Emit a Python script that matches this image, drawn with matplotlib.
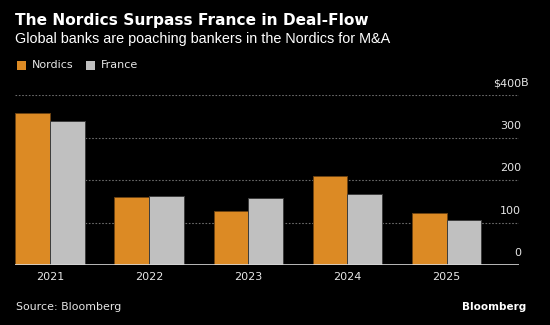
import matplotlib
matplotlib.use("Agg")
import matplotlib.pyplot as plt
import matplotlib.transforms as mtransforms
import numpy as np

years = ["2021", "2022", "2023", "2024", "2025"]
nordics = [358, 160, 127, 209, 124]
france = [338, 162, 157, 167, 106]
y_ticks = [0, 100, 200, 300, 400]
y_labels = ["0", "100", "200", "300", "$400B"]

W, H = 550, 325
fig = plt.figure(figsize=(W / 100, H / 100), dpi=100, facecolor="black")

def fx(px):
    return px / W

def fy(py):
    return 1 - py / H

ax_left, ax_right, ax_top, ax_bottom = 15, 519, 95, 265.3
ax = fig.add_axes([fx(ax_left), fy(ax_bottom), fx(ax_right - ax_left), (ax_bottom - ax_top) / H])
ax.set_facecolor("black")

orange = "#DC8A24"
grey = "#C0C0C0"
x = np.arange(len(years))
bw = 0.35
ax.bar(x - bw / 2, nordics, width=bw, color=orange, edgecolor="#6b4212", linewidth=0.7, zorder=3)
ax.bar(x + bw / 2, france, width=bw, color=grey, edgecolor="#3c3c3c", linewidth=0.7, zorder=3)

ax.set_xlim(-0.352, 4.731)
ax.set_ylim(0, 400)
for v in y_ticks[1:]:
    ax.axhline(v, color="#6a6a6a", lw=0.8, ls=(0, (1.5, 1.5)), zorder=1)
ax.axhline(0, color="#d8d8d8", lw=1.2, zorder=4)
for s in ax.spines.values():
    s.set_visible(False)
ax.set_yticks([])
ax.set_xticks(x)
ax.set_xticklabels(years)
ax.tick_params(axis="x", length=0, pad=5, colors="#e6e6e6", labelsize=8)
for lab in ax.get_xticklabels():
    lab.set_fontfamily("DejaVu Sans")

trans = mtransforms.blended_transform_factory(ax.transAxes, ax.transData)
for v, lab in zip(y_ticks, y_labels):
    off = mtransforms.ScaledTranslation(2 / 100, 12 / 100, fig.dpi_scale_trans)
    if lab.startswith("$"):
        ax.text(1.0, v, lab[:-1], transform=trans + off, ha="right", va="center",
                color="#e6e6e6", fontsize=8, family="DejaVu Sans", clip_on=False)
        ax.text(1.0, v, lab[-1], transform=trans + off, ha="left", va="center",
                color="#e6e6e6", fontsize=8, family="DejaVu Sans", clip_on=False)
    else:
        ax.text(1.0, v, lab, transform=trans + off, ha="right", va="center",
                color="#e6e6e6", fontsize=8, family="DejaVu Sans", clip_on=False)

fig.text(fx(15), fy(21), "The Nordics Surpass France in Deal-Flow", color="white",
         fontsize=11.1, fontweight="bold", family="DejaVu Sans", va="center", ha="left")
fig.text(fx(15), fy(39.5), "Global banks are poaching bankers in the Nordics for M&A",
         color="white", fontsize=10.4, family="Liberation Sans", va="center", ha="left")

# legend
for sx, tx, col, name in [(16.8, 31.6, orange, "Nordics"), (85.6, 100.7, grey, "France")]:
    fig.patches.append(plt.Rectangle((fx(sx), fy(70)), fx(9.3), 9 / H, transform=fig.transFigure,
                                     facecolor=col, edgecolor="none"))
    fig.text(fx(tx), fy(65.5), name, color="#e6e6e6", fontsize=8, family="DejaVu Sans",
             va="center", ha="left")

fig.text(fx(16), fy(306.5), "Source: Bloomberg", color="#e6e6e6", fontsize=7.9,
         family="DejaVu Sans", va="center", ha="left")
fig.text(fx(526), fy(306.5), "Bloomberg", color="white", fontsize=7.5, fontweight="bold",
         family="DejaVu Sans", va="center", ha="right")

fig.savefig("out.png", dpi=100, facecolor="black")
